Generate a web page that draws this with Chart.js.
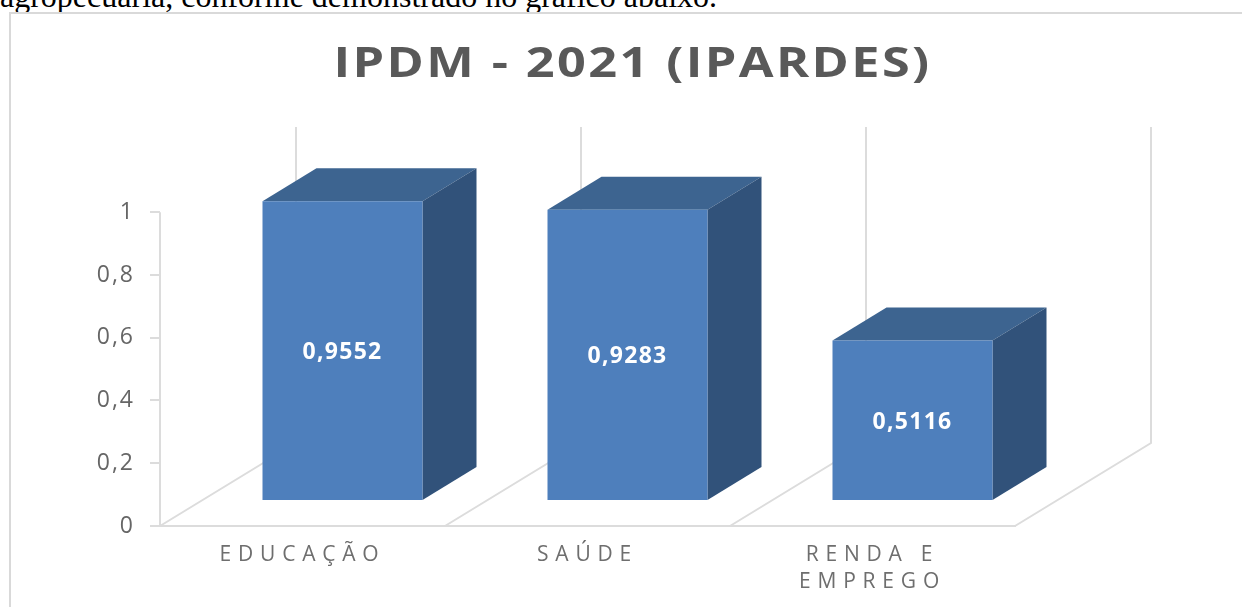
<!DOCTYPE html>
<html lang="pt-BR">
<head>
<meta charset="utf-8">
<title>IPDM - 2021 (IPARDES)</title>
<script src="https://cdn.jsdelivr.net/npm/chart.js@4/dist/chart.umd.min.js"></script>
<style>
html,body{margin:0;padding:0;width:1242px;height:607px;overflow:hidden;background:#fff}
#caption{position:absolute;left:0;top:-22.5px;font:32px "Liberation Serif",serif;white-space:nowrap;color:#000}
#frame{position:absolute;left:9px;top:12px;width:1260px;height:620px;border:2px solid #d9d9d9;box-sizing:border-box}
#chart{position:absolute;left:11px;top:15px}
</style>
</head>
<body>
<div id="caption">agropecuária, conforme demonstrado no gráfico abaixo.</div>
<div id="frame"></div>
<canvas id="chart" width="1241" height="593"></canvas>
<script>
const categories = ['EDUCAÇÃO', 'SAÚDE', ['RENDA E', 'EMPREGO']];
const values = [0.9552, 0.9283, 0.5116];
const yTicks = [0, 0.2, 0.4, 0.6, 0.8, 1];
const titleText = 'IPDM - 2021 (IPARDES)';

const FRONT = '#4e7fbc', TOP = '#3d6490', SIDE = '#31527a', LINE = '#dcdcdc';
const BAR_SHIFT = {x: 40, y: -25};
const BAR_DEPTH = {x: 54, y: -33};
const FLOOR_DEPTH = {x: 136, y: -83};
const TITLE_STRETCH = 1.2;
const comma = v => String(v).replace('.', ',');

function spaced(target, method, spacing, prepare) {
  const orig = target[method];
  target[method] = function (...args) {
    const ctx = this.ctx;
    ctx.save();
    ctx.letterSpacing = spacing;
    if (prepare) prepare(this, ctx);
    orig.apply(this, args);
    ctx.restore();
  };
}

const bar3d = {
  id: 'bar3d',
  afterLayout(chart) {
    if (chart.$spaced) return;
    chart.$spaced = true;
    spaced(chart.scales.x, 'drawLabels', '6.8px');
    spaced(chart.scales.y, 'drawLabels', '2px');
    // the title is centred on the whole chart box, not on the plot area
    spaced(chart.titleBlock, 'draw', '2px', (t, ctx) => {
      ctx.translate(chart.width / 2 + 1, 0);
      ctx.scale(TITLE_STRETCH, 1);
      ctx.translate(-(t.left + t.right) / 2, 0);
    });
  },
  beforeDatasetsDraw(chart) {
    const {ctx, chartArea: a, scales} = chart;
    const step = (a.right - a.left) / categories.length;
    ctx.save();
    ctx.strokeStyle = LINE;
    ctx.lineWidth = 2;
    ctx.beginPath();
    ctx.moveTo(a.left, scales.y.getPixelForValue(yTicks[yTicks.length - 1]));
    ctx.lineTo(a.left, scales.y.getPixelForValue(0));
    ctx.stroke();
    for (let i = 0; i <= categories.length; i++) {
      const x = a.left + i * step;
      ctx.beginPath();
      ctx.moveTo(x, a.bottom);
      ctx.lineTo(x + FLOOR_DEPTH.x, a.bottom + FLOOR_DEPTH.y);
      ctx.lineTo(x + FLOOR_DEPTH.x, a.top);
      ctx.stroke();
    }
    ctx.restore();
    ctx.save();
    ctx.translate(BAR_SHIFT.x, BAR_SHIFT.y);
    chart.getDatasetMeta(0).data.forEach(b => {
      const l = b.x - b.width / 2, r = b.x + b.width / 2, t = b.y, bt = b.base;
      ctx.fillStyle = TOP;
      ctx.beginPath();
      ctx.moveTo(l, t); ctx.lineTo(r, t);
      ctx.lineTo(r + BAR_DEPTH.x, t + BAR_DEPTH.y);
      ctx.lineTo(l + BAR_DEPTH.x, t + BAR_DEPTH.y);
      ctx.closePath(); ctx.fill();
      ctx.fillStyle = SIDE;
      ctx.beginPath();
      ctx.moveTo(r, t); ctx.lineTo(r + BAR_DEPTH.x, t + BAR_DEPTH.y);
      ctx.lineTo(r + BAR_DEPTH.x, bt + BAR_DEPTH.y);
      ctx.lineTo(r, bt);
      ctx.closePath(); ctx.fill();
    });
  },
  afterDatasetsDraw(chart) {
    const ctx = chart.ctx;
    ctx.fillStyle = '#ffffff';
    ctx.font = 'bold 23px "Open Sans"';
    ctx.textAlign = 'center';
    ctx.textBaseline = 'middle';
    ctx.letterSpacing = '1.3px';
    chart.getDatasetMeta(0).data.forEach((b, i) => {
      ctx.fillText(comma(values[i]), b.x, (b.y + b.base) / 2 + 2);
    });
    ctx.letterSpacing = '0px';
    ctx.restore();
  }
};

new Chart(document.getElementById('chart'), {
  type: 'bar',
  plugins: [bar3d],
  data: {
    labels: categories,
    datasets: [{
      data: values,
      backgroundColor: FRONT,
      borderWidth: 0,
      categoryPercentage: 1,
      barPercentage: 160 / 285,
      clip: false
    }]
  },
  options: {
    responsive: false,
    animation: false,
    layout: {padding: {left: 0, right: 237, top: 0, bottom: 0}},
    plugins: {
      legend: {display: false},
      tooltip: {enabled: false},
      title: {
        display: true,
        text: titleText,
        color: '#595959',
        font: {family: '"Open Sans"', weight: 'bold', size: 42, lineHeight: 1.2},
        padding: {top: 24.5, bottom: 37.1}
      }
    },
    scales: {
      x: {
        afterFit: s => { s.height = 82; },
        grid: {drawOnChartArea: false, drawTicks: false},
        border: {color: LINE, width: 2},
        ticks: {
          color: '#6e6e6e',
          padding: 15,
          maxRotation: 0,
          autoSkip: false,
          font: {family: '"Open Sans"', size: 21, lineHeight: 1.3}
        }
      },
      y: {
        min: 0,
        max: 398 / 313,
        afterFit: s => { s.width = 149; },
        afterBuildTicks: s => { s.ticks = yTicks.map(value => ({value})); },
        grid: {drawOnChartArea: false, color: LINE, lineWidth: 2, tickLength: 10},
        border: {display: false},
        ticks: {
          color: '#666666',
          padding: 15,
          font: {family: '"Open Sans"', size: 23},
          callback: v => comma(v)
        }
      }
    }
  }
});
</script>
</body>
</html>
